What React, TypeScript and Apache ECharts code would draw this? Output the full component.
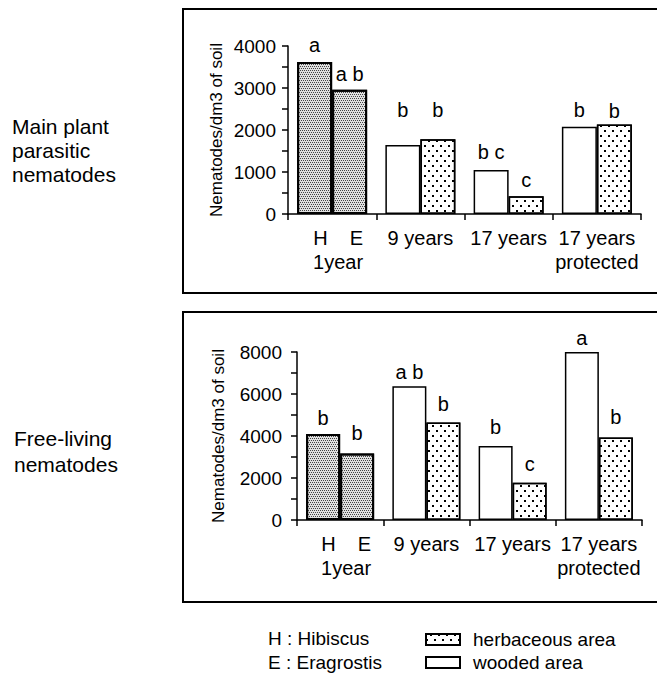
import React, { useEffect, useRef } from "react";
import * as echarts from "echarts";

// ---- data ----
const xLabels = ["H    E\n1year", "9 years", "17 years", "17 years\nprotected"];
const yTicksTop = [0, 1000, 2000, 3000, 4000];
const yTicksBottom = [0, 2000, 4000, 6000, 8000];
const yTitle = "Nematodes/dm3 of soil";

// Main plant parasitic nematodes
const parasiticLeft = [3620, 1640, 1050, 2080]; // H (1 year) / wooded
const parasiticRight = [2960, 1780, 420, 2130]; // E (1 year) / herbaceous
const parasiticLeftLetters = ["a", "b", "b c", "b"];
const parasiticRightLetters = ["a b", "b", "c", "b"];

// Free-living nematodes
const freeLeft = [4090, 6370, 3520, 8000];
const freeRight = [3170, 4640, 1770, 3930];
const freeLeftLetters = ["b", "a b", "b", "a"];
const freeRightLetters = ["b", "b", "c", "b"];

// ---- styles ----
const FONT = "'Liberation Sans', Arial, Helvetica, sans-serif";
const topLeftDist = [7, 25, 8, 7];
const topRightDist = [6, 19, 6, 4];
const botLeftDist = [6, 4, 9, 4];
const botRightDist = [10, 9, 9, 10];

const denseStyle = {
  color: "#e0e0e0",
  borderColor: "#000",
  borderWidth: 2,
  decal: {
    symbol: "rect",
    symbolSize: 1,
    color: "#444",
    dashArrayX: [
      [1, 1],
      [0, 1, 1, 0],
    ],
    dashArrayY: [1, 1],
  },
};
const woodedStyle = { color: "#fff", borderColor: "#000", borderWidth: 1.5, decal: "none" };
const herbStyle = {
  color: "#fff",
  borderColor: "#000",
  borderWidth: 1.5,
  decal: {
    symbol: "rect",
    symbolSize: 1,
    color: "#000",
    dashArrayX: [
      [2, 6],
      [0, 4, 2, 2],
    ],
    dashArrayY: [2, 3],
  },
};

function buildData(values: number[], letters: string[], dists: number[], firstStyle: any) {
  return values.map((v, i) => ({
    value: v,
    itemStyle: i === 0 ? firstStyle : undefined,
    label: { formatter: letters[i], distance: dists[i] },
  }));
}

const labelCommon = { show: true, position: "top", fontSize: 20, color: "#000", fontFamily: FONT };

function xAxisCfg(gridIndex: number) {
  return {
    type: "category",
    gridIndex,
    data: xLabels.map((l, i) => (i === 0 ? { value: l, textStyle: { padding: [0, 0, 0, 12] } } : l)),
    axisLine: { lineStyle: { color: "#000", width: 1.5 } },
    axisTick: { show: true, alignWithLabel: false, length: 6, lineStyle: { color: "#000", width: 1.5 } },
    axisLabel: { interval: 0, fontSize: 20, lineHeight: 24, color: "#000", fontFamily: FONT, margin: 12 },
  };
}

function yAxisCfg(gridIndex: number, ticks: number[], margin: number) {
  const step = ticks[1] - ticks[0];
  const half = step / 2;
  return {
    type: "value",
    gridIndex,
    min: ticks[0],
    max: ticks[ticks.length - 1],
    interval: half,
    axisLine: { show: true, lineStyle: { color: "#000", width: 1.5 } },
    axisTick: { show: true, length: 6, lineStyle: { color: "#000", width: 1.5 } },
    splitLine: { show: true, lineStyle: { color: "rgba(0,0,0,0)", width: 0 } },
    axisLabel: {
      fontSize: 19,
      color: "#000",
      fontFamily: FONT,
      margin,
      formatter: (v: number) => (ticks.indexOf(v) >= 0 ? String(v) : ""),
    },
  };
}

export default function App() {
  const ref = useRef<HTMLDivElement>(null);
  useEffect(() => {
    if (!ref.current) return;
    const chart = echarts.init(ref.current, null, { renderer: "svg" });
    chart.setOption({
      animation: false,
      backgroundColor: "#fff",
      grid: [
        { left: 288, top: 46, width: 353, height: 168 },
        { left: 297, top: 352, width: 345, height: 168 },
      ],
      xAxis: [xAxisCfg(0), xAxisCfg(1)],
      yAxis: [yAxisCfg(0, yTicksTop, 12), yAxisCfg(1, yTicksBottom, 15)],
      legend: {
        orient: "vertical",
        left: 420,
        top: 625,
        itemWidth: 34,
        itemHeight: 11,
        itemGap: 4,
        icon: "rect",
        selectedMode: false,
        data: ["herbaceous area", "wooded area"],
        textStyle: { fontSize: 19, color: "#000", fontFamily: FONT, padding: [0, 0, 0, 8] },
      },
      series: [
        {
          type: "bar",
          name: "wooded area",
          xAxisIndex: 0,
          yAxisIndex: 0,
          barWidth: 35,
          barGap: "0%",
          itemStyle: woodedStyle,
          label: labelCommon,
          data: buildData(parasiticLeft, parasiticLeftLetters, topLeftDist, denseStyle),
        },
        {
          type: "bar",
          name: "herbaceous area",
          xAxisIndex: 0,
          yAxisIndex: 0,
          barWidth: 35,
          barGap: "0%",
          itemStyle: herbStyle,
          label: labelCommon,
          data: buildData(parasiticRight, parasiticRightLetters, topRightDist, denseStyle),
        },
        {
          type: "bar",
          name: "wooded area",
          xAxisIndex: 1,
          yAxisIndex: 1,
          barWidth: 34,
          barGap: "0%",
          itemStyle: woodedStyle,
          label: labelCommon,
          data: buildData(freeLeft, freeLeftLetters, botLeftDist, denseStyle),
        },
        {
          type: "bar",
          name: "herbaceous area",
          xAxisIndex: 1,
          yAxisIndex: 1,
          barWidth: 34,
          barGap: "0%",
          itemStyle: herbStyle,
          label: labelCommon,
          data: buildData(freeRight, freeRightLetters, botRightDist, denseStyle),
        },
      ],
      graphic: [
        {
          type: "rect",
          shape: { x: 183, y: 9, width: 500, height: 284 },
          style: { fill: "none", stroke: "#000", lineWidth: 2 },
          silent: true,
        },
        {
          type: "rect",
          shape: { x: 183, y: 312, width: 500, height: 290 },
          style: { fill: "none", stroke: "#000", lineWidth: 2 },
          silent: true,
        },
        {
          type: "text",
          x: 216,
          y: 130,
          rotation: Math.PI / 2,
          style: { text: yTitle, fontSize: 17, fontFamily: FONT, fill: "#000", align: "center", verticalAlign: "middle" },
        },
        {
          type: "text",
          x: 218,
          y: 436,
          rotation: Math.PI / 2,
          style: { text: yTitle, fontSize: 17, fontFamily: FONT, fill: "#000", align: "center", verticalAlign: "middle" },
        },
        {
          type: "text",
          x: 12,
          y: 150,
          style: {
            text: "Main plant\nparasitic\nnematodes",
            fontSize: 21,
            lineHeight: 24,
            fontFamily: FONT,
            fill: "#000",
            align: "left",
            verticalAlign: "middle",
          },
        },
        {
          type: "text",
          x: 14,
          y: 451,
          style: {
            text: "Free-living\nnematodes",
            fontSize: 21,
            lineHeight: 26,
            fontFamily: FONT,
            fill: "#000",
            align: "left",
            verticalAlign: "middle",
          },
        },
        {
          type: "text",
          x: 268,
          y: 638,
          style: { text: "H : Hibiscus", fontSize: 19, fontFamily: FONT, fill: "#000", verticalAlign: "middle" },
        },
        {
          type: "text",
          x: 268,
          y: 662,
          style: { text: "E : Eragrostis", fontSize: 19, fontFamily: FONT, fill: "#000", verticalAlign: "middle" },
        },
      ],
    });
    return () => chart.dispose();
  }, []);
  return <div ref={ref} style={{ position: "absolute", left: 0, top: 0, width: 657, height: 688 }} />;
}
